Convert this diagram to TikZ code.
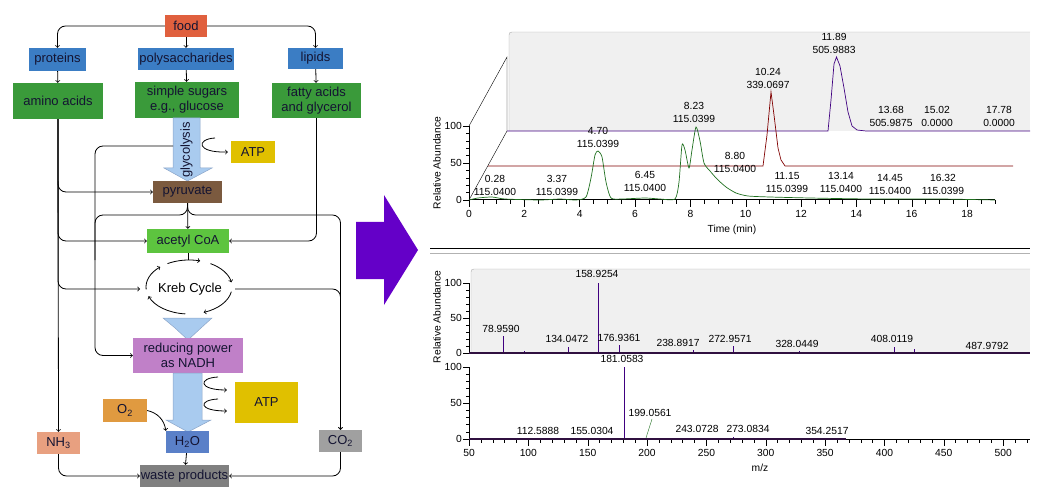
\documentclass[tikz,border=0pt]{standalone}
\usepackage{fontspec}
\setmainfont{Liberation Sans}

\definecolor{textc}{RGB}{20,20,50}
\definecolor{foodc}{RGB}{224,96,62}
\definecolor{bluebox}{RGB}{59,125,196}
\definecolor{greenbox}{RGB}{58,154,58}
\definecolor{acetylc}{RGB}{93,196,63}
\definecolor{atpc}{RGB}{224,192,0}
\definecolor{pyruvc}{RGB}{123,90,63}
\definecolor{nadhc}{RGB}{192,128,200}
\definecolor{oxyc}{RGB}{224,154,64}
\definecolor{waterc}{RGB}{90,128,200}
\definecolor{ammoc}{RGB}{232,160,128}
\definecolor{carbc}{RGB}{160,160,160}
\definecolor{wastec}{RGB}{128,128,128}
\definecolor{flowc}{RGB}{169,203,239}
\definecolor{flowedge}{RGB}{140,165,200}
\definecolor{bigarrow}{RGB}{100,0,200}
\definecolor{panelc}{RGB}{240,240,240}
\definecolor{panelline}{RGB}{176,176,176}
\definecolor{traceg}{RGB}{32,112,32}
\definecolor{tracer}{RGB}{128,0,0}
\definecolor{tracep}{RGB}{64,0,128}
\definecolor{specc}{RGB}{48,16,64}

\newcommand{\flowfont}{\fontsize{13}{15}\selectfont}
\newcommand{\chartfont}{\fontsize{10.3}{13}\selectfont}

\begin{document}
\begin{tikzpicture}[x=1pt, y=-1pt,
    box/.style={fill=#1, inner sep=0pt, text=textc, font=\flowfont, align=center},
    flow/.style={fill=flowc, draw=flowedge, line width=0.5pt},
    conn/.style={->, line width=0.8pt, rounded corners=8},
    lbl/.style={font=\chartfont, align=center, inner sep=0pt}]
    \useasboundingbox (0,0) rectangle (1045,500);

    % flow chart
    \node[box=foodc, minimum width=42, minimum height=22] (food) at (186,26) {food};
    \node[box=bluebox, minimum width=57, minimum height=23] (proteins) at (57.5,59.5) {proteins};
    \node[box=bluebox, minimum width=96, minimum height=22] (poly) at (186,59) {polysaccharides};
    \node[box=bluebox, minimum width=55, minimum height=21] (lipids) at (315.5,58.5) {lipids};
    \node[box=greenbox, minimum width=90, minimum height=36] (amino) at (58,101) {amino acids};
    \node[box=greenbox, minimum width=104, minimum height=36] (sugars) at (187,100) {simple sugars\\e.g., glucose};
    \node[box=greenbox, minimum width=89, minimum height=35] (fatty) at (316.5,100.5) {fatty acids\\and glycerol};

    \draw[flow] (173,118) -- (200,118) -- (200,168) -- (212,168) -- (187.5,181) -- (164,168) -- (173,168) -- cycle;
    \node[rotate=90, font=\flowfont, text=textc, inner sep=0pt] (glyco) at (186.5,150) {glycolysis};
    \node[box=atpc, minimum width=44, minimum height=22] (atpa) at (253,152) {ATP};
    \node[box=pyruvc, minimum width=69, minimum height=22] (pyruvate) at (187.5,192) {pyruvate};
    \node[box=acetylc, minimum width=82, minimum height=24] (acetyl) at (188,241) {acetyl CoA};
    \node[font=\flowfont, inner sep=0pt] (kreb) at (190,289) {Kreb Cycle};

    \draw[flow] (163,318) -- (212,318) -- (201,328) -- (188,340) -- (175,328) -- cycle;
    \node[box=nadhc, minimum width=110, minimum height=35] (nadh) at (188,355.5) {reducing power\\as NADH};
    \draw[flow] (173,373) -- (202,373) -- (202,420) -- (211,420) -- (188,432) -- (166,420) -- (173,420) -- cycle;
    \node[box=atpc, minimum width=63, minimum height=41] (atpb) at (266.5,402.5) {ATP};
    \node[box=oxyc, minimum width=44, minimum height=23] (o2) at (125,410.5) {O\textsubscript{2}};
    \node[box=waterc, minimum width=43, minimum height=22] (h2o) at (187.5,442) {H\textsubscript{2}O};
    \node[box=ammoc, minimum width=43, minimum height=22] (nh3) at (58.5,443) {NH\textsubscript{3}};
    \node[box=carbc, minimum width=43, minimum height=22] (co2) at (340.5,441) {CO\textsubscript{2}};
    \node[box=wastec, minimum width=89, minimum height=22] (waste) at (184.5,476) {waste products};

    \coordinate (glyL) at (173,146);
    \coordinate (kin) at (140,289);
    \coordinate (kout) at (235,289);
    \coordinate (ktop) at (188,260);

    \draw[conn] (food.west) -| (proteins.north);
    \draw[conn] (food) -- (poly);
    \draw[conn] (food.east) -| (lipids.north);
    \draw[conn] (proteins) -- (amino);
    \draw[conn] (poly) -- (sugars);
    \draw[conn] (lipids) -- (fatty);

    \draw[conn] (amino.south) -- (nh3.north);
    \draw[conn] (amino.south) |- (pyruvate.west);
    \draw[conn] (amino.south) |- (acetyl.west);
    \draw[conn] (amino.south) |- (kin);
    \draw[conn] (fatty.south) |- (acetyl.east);
    \draw[conn] (pyruvate) -- (acetyl);
    \draw[line width=0.8pt] (acetyl.south) -- (ktop);

    \draw[conn] (glyL) -- (95,146) -- (95,355.5) -- (nadh.west);
    \draw[line width=0.8pt, rounded corners=8] (pyruvate.south) |- (95,215) -- (95,260);
    \draw[conn] (pyruvate.south) |- (340.5,215) -- (co2.north);
    \draw[conn] (kout) -| (co2.north);

    \foreach \a/\b in {240/285, 300/350, 10/70, 95/160, 175/228}
        \draw[->, line width=0.8pt] ({189+43*cos(\a)},{287+27*sin(\a)}) arc[start angle=\a, end angle=\b, x radius=43, y radius=27];

    \draw[->, line width=0.8pt] (215,138) .. controls (196,139) and (196,153) .. ([xshift=-3]atpa.west);
    \draw[->, line width=0.8pt] (218,377) .. controls (198,378) and (198,390) .. ([shift={(-8,-12.5)}]atpb.west);
    \draw[->, line width=0.8pt] (218,399) .. controls (198,400) and (198,411) .. ([shift={(-8,8.5)}]atpb.west);

    \draw[->, line width=0.8pt] (o2.east) to[bend left=35] (h2o.north west);
    \draw[conn] (h2o) -- (waste);
    \draw[conn] (nh3.south) |- (waste.west);
    \draw[conn] (co2.south) |- (waste.east);

    % big arrow
    \fill[bigarrow] (356,222) -- (384,222) -- (384,195) -- (418,250) -- (384,305) -- (384,279) -- (356,279) -- cycle;

    % chromatogram
    \begin{scope}[font=\chartfont]
    \fill[panelc] (509,32) rectangle (1030,131);
    \draw[panelline, rounded corners=3] (509,131) -- (509,32) -- (1030,32);
    \draw (469,126) -- (507,57) -- (507,131);
    \draw (469,200) -- (507,131);

    \draw (469,200) -- (469,126);
    \foreach \v in {0,10,...,100}
        \draw (469,{200-0.74*\v}) -- ++(-3,0);
    \foreach \v in {0,50,100}
        \draw (469,{200-0.74*\v}) -- ++(-6,0) node[left=1pt, inner sep=0pt] (ya\v) {\v};
    \draw[line width=1pt] (469,200) -- (995,200);
    \foreach \t in {0,0.5,...,19}
        \draw ({469+27.67*\t},200) -- ++(0,4);
    \foreach \t in {0,2,...,18}
        \draw ({469+27.67*\t},200) -- ++(0,7) node[below=3pt, inner sep=0pt] (xa\t) {\t};
    \node[rotate=90, inner sep=0pt] (ylabA) at (437,163) {Relative Abundance};
    \node[inner sep=0pt] (xlabA) at (732,230) {Time (min)};

    \draw[tracep, line width=0.7pt] (507,131) -- (828,131) -- (831,100) -- (834,64) -- (836.5,57) -- (840,66) -- (844,88) -- (848,112) -- (852,126) -- (857,130) -- (866,131) -- (1030,131);
    \draw[tracer, line width=0.7pt] (488,166) -- (763,166) -- (767,135) -- (771,92) -- (774,115) -- (778,148) -- (781,160) -- (785,166) -- (1013,166);
    \draw[traceg, line width=0.7pt] plot[smooth, tension=0.4] coordinates {(469,200) (478,198) (492,197) (505,199) (540,200) (560,199) (576,200) (586,197) (591,178) (595,155) (598,151) (602,157) (606,182) (611,198) (622,199) (645,198) (660,199) (675,199) (679,182) (682,145) (685,150) (689,168) (692,150) (696,127) (700,141) (704,163) (710,171) (717,179) (726,187) (736,193) (748,196) (770,197) (810,198) (870,199) (940,199) (995,200)};

    \foreach \x/\y/\a/\b [count=\i] in {495/185/0.28/115.0400, 557/185/3.37/115.0399, 598/137.5/4.70/115.0399,
        645/181.5/6.45/115.0400, 694/112/8.23/115.0399, 735/162/8.80/115.0400, 768/78/10.24/339.0697,
        787/182.5/11.15/115.0399, 834/43.5/11.89/505.9883, 841/182.5/13.14/115.0400, 891/116.5/13.68/505.9875,
        890/184.5/14.45/115.0400, 937/116.5/15.02/0.0000, 943/184.5/16.32/115.0399, 999/116.5/17.78/0.0000}
        \node[lbl] (rt\i) at (\x,\y) {\a\\\b};

    % separator
    \draw (430,248) -- (1030,248);
    \draw[gray!60] (430,253) -- (1030,253);

    % spectra
    \fill[panelc] (471,269) rectangle (1030,353);
    \draw[panelline, rounded corners=3] (471,353) -- (471,269) -- (1030,269);
    \draw (469,353) -- (469,283);
    \foreach \v in {0,10,...,100}
        \draw (469,{353-0.7*\v}) -- ++(-3,0);
    \foreach \v in {0,50,100}
        \draw (469,{353-0.7*\v}) -- ++(-6,0) node[left=1pt, inner sep=0pt] (yb\v) {\v};
    \foreach \m/\h in {78.959/24, 97/3, 134.0472/9, 158.9254/100, 176.9361/12, 238.8917/4, 272.9571/10, 328.0449/3, 408.0119/8, 425/6, 487.9792/2}
        \draw[tracep, line width=0.8pt] ({469+1.187*(\m-50)},353) -- ++(0,{-0.7*\h});
    \draw[specc, line width=2pt] (469,353) -- (1030,353);

    \draw (469,439) -- (469,367);
    \foreach \v in {0,10,...,100}
        \draw (469,{439-0.72*\v}) -- ++(-3,0);
    \foreach \v in {0,50,100}
        \draw (469,{439-0.72*\v}) -- ++(-6,0) node[left=1pt, inner sep=0pt] (yc\v) {\v};
    \draw (469,439) -- (1030,439);
    \foreach \m in {50,60,...,520}
        \draw ({469+1.187*(\m-50)},439) -- ++(0,4);
    \foreach \m in {50,100,...,500}
        \draw ({469+1.187*(\m-50)},439) -- ++(0,7) node[below=3pt, inner sep=0pt] (xc\m) {\m};
    \foreach \m/\h in {112.5888/2, 155.0304/1, 181.0583/100, 243.0728/2, 273.0834/3, 354.2517/1}
        \draw[tracep, line width=0.8pt] ({469+1.187*(\m-50)},439) -- ++(0,{-0.72*\h});
    \draw[traceg] (646,438) -- (652,419);
    \draw[specc, line width=2pt] (469,439) -- (846,439);
    \node[rotate=90, inner sep=0pt] (ylabB) at (437,317) {Relative Abundance};
    \node[inner sep=0pt] (xlabB) at (760,468) {m/z};

    \foreach \x/\y/\a [count=\i] in {501/329/78.9590, 597/274/158.9254, 567/339/134.0472, 619/338/176.9361,
        678/343/238.8917, 730/339/272.9571, 797/344/328.0449, 892/339/408.0119, 987/346/487.9792,
        622/359/181.0583, 650/413/199.0561, 538/431/112.5888, 592/431/155.0304, 697/429/243.0728,
        748/429/273.0834, 827/431/354.2517}
        \node[lbl] (mz\i) at (\x,\y) {\a};
    \end{scope}
\end{tikzpicture}
\end{document}
